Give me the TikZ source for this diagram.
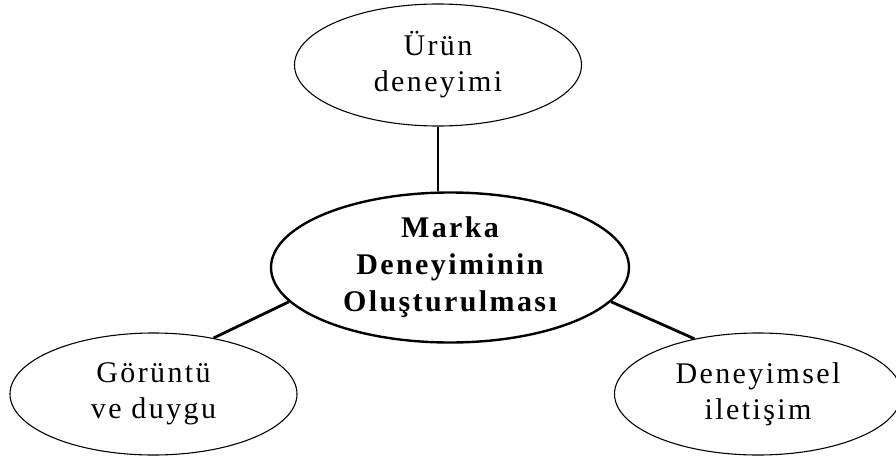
\documentclass[tikz,border=0pt]{standalone}
\usepackage{fontspec}
\setmainfont{Liberation Serif}[LetterSpace=8]
\usetikzlibrary{shapes.geometric}
\begin{document}
\begin{tikzpicture}[x=1pt,y=1pt,
  bubble/.style={ellipse,draw=black,line width=1.1pt,inner sep=0pt,
    minimum width=287pt,minimum height=122pt,align=center,
    font=\fontsize{30}{36}\selectfont},
  core/.style={ellipse,draw=black,line width=2.4pt,inner sep=0pt,
    minimum width=358pt,minimum height=150pt,align=center,
    font=\fontsize{30}{37}\selectfont\bfseries},
  link/.style={draw=black,line width=2.8pt}]
\useasboundingbox (0,0) rectangle (896,459);
\clip (0,0) rectangle (896,459);
% central concept
\node[core] (ctr) at (450,191.5) {Marka\\Deneyiminin\\Oluşturulması};
% three components
\node[bubble] (top) at (438,394) {Ürün\\deneyimi};
\node[bubble] (lft) at (153.5,65) {Görüntü\\ve duygu};
\node[bubble] (rgt) at (758,65) {Deneyimsel\\iletişim};
% connectors
\draw[link] (top.south) -- (top.south |- ctr.north);
\draw[link] (lft.43) -- (ctr.192);
\draw[link] (rgt.139) -- (ctr.348);
\end{tikzpicture}
\end{document}
